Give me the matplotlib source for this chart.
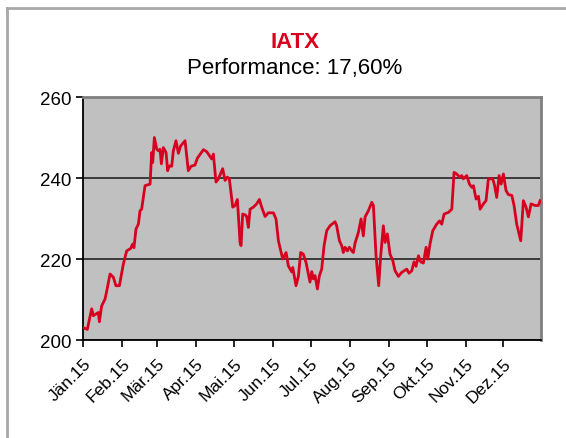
#!/usr/bin/env python3
# iatx_2015.py

import pandas as pd
import matplotlib
matplotlib.use("Agg")
import matplotlib.pyplot as plt
from matplotlib.lines import Line2D

plt.rcParams["font.family"] = ["Liberation Sans", "DejaVu Sans"]

# ===== Data =====
# day offsets from 1 Jan 2015 and index level
day_offsets = [
    0, 3.4, 6.9, 8.2, 12.2, 13.0, 14.8, 17.5, 18.8, 21.5, 24.1, 26.2, 28.9,
    32.1, 34.7, 37.9, 39.5, 40.5, 42.1, 44.0, 45.3, 46.6, 49.3, 53.3, 54.6,
    55.4, 56.7, 58.6, 59.9, 61.2, 62.3, 63.9, 66.0, 67.3, 68.6, 70.5, 71.8,
    73.9, 75.8, 77.6, 81.1, 83.7, 85.9, 89.0, 90.9, 95.7, 98.3, 102.3, 103.6,
    105.7, 107.6, 111.0, 112.9, 114.7, 116.3, 119.0, 120.8, 122.7, 124.8,
    125.6, 126.9, 128.8, 130.1, 131.4, 132.8, 135.4, 138.0, 140.2, 142.0,
    144.7, 147.3, 151.3, 153.4, 155.3, 158.7, 161.4, 163.2, 165.9, 166.7,
    169.3, 171.2, 173.0, 175.1, 177.3, 180.4, 181.8, 183.1, 184.4, 186.3,
    187.9, 189.7, 191.6, 193.7, 196.3, 200.3, 201.6, 203.8, 205.6, 206.9,
    208.3, 210.1, 211.7, 213.6, 214.9, 216.2, 218.9, 221.0, 222.8, 224.2,
    226.8, 229.5, 230.8, 232.9, 235.0, 236.6, 238.7, 240.1, 241.9, 244.0,
    246.2, 248.0, 250.7, 253.3, 257.3, 259.1, 261.3, 263.1, 264.7, 266.6,
    268.4, 270.5, 272.7, 274.0, 275.8, 278.0, 281.1, 283.3, 285.1, 287.0,
    290.4, 293.1, 294.9, 297.0, 299.2, 301.0, 302.3, 305.0, 307.1, 309.0,
    310.3, 312.4, 314.3, 315.6, 318.2, 320.3, 322.2, 325.6, 327.0, 328.8,
    330.7, 332.3, 334.1, 336.2, 338.1, 340.8, 342.6, 344.7, 347.9, 350.0,
    352.1, 354.0, 356.1, 359.3, 361.9, 363.3,
]
iatx = [
    203.1, 202.6, 207.7, 206.0, 206.8, 204.5, 208.4, 210.1, 212.0, 216.3,
    215.5, 213.4, 213.4, 218.8, 222.0, 222.6, 223.7, 222.8, 227.4, 228.6,
    231.9, 232.3, 238.1, 238.5, 246.3, 243.8, 250.0, 247.1, 246.7, 247.1,
    243.5, 247.5, 246.3, 241.8, 243.0, 242.9, 246.7, 249.2, 246.1, 247.9,
    249.2, 241.8, 242.9, 243.2, 244.9, 247.0, 246.5, 244.7, 245.9, 239.0,
    239.8, 242.3, 239.4, 240.2, 239.8, 232.8, 233.2, 234.7, 224.1, 223.3,
    231.1, 230.9, 230.5, 227.8, 232.3, 232.8, 233.6, 234.7, 232.8, 230.5,
    231.4, 231.4, 229.9, 224.5, 220.0, 221.6, 218.3, 216.8, 217.9, 213.4,
    215.8, 221.6, 221.2, 219.1, 214.3, 216.9, 215.1, 215.9, 212.6, 215.9,
    217.5, 223.3, 227.0, 228.2, 229.2, 228.2, 224.5, 223.3, 221.6, 222.9,
    222.0, 222.9, 222.0, 221.6, 223.9, 226.6, 229.9, 225.7, 230.4, 231.9,
    234.0, 233.2, 220.8, 213.4, 220.8, 228.2, 224.1, 226.2, 221.2, 219.6,
    217.1, 215.7, 216.7, 217.5, 216.5, 217.1, 219.3, 218.2, 220.8, 219.3,
    219.0, 222.9, 220.0, 223.7, 227.0, 228.6, 229.4, 228.6, 231.1, 231.5,
    232.3, 241.4, 241.0, 240.2, 240.6, 239.8, 240.6, 238.5, 237.7, 238.1,
    234.8, 235.5, 232.3, 233.6, 234.4, 239.8, 239.8, 238.3, 235.2, 240.6,
    238.5, 241.0, 236.9, 235.9, 235.7, 233.2, 228.6, 224.5, 234.4, 232.8,
    230.4, 233.6, 233.2, 233.2, 234.4,
]
month_labels = ["Jän.15", "Feb.15", "Mär.15", "Apr.15", "Mai.15", "Jun.15",
                "Jul.15", "Aug.15", "Sep.15", "Okt.15", "Nov.15", "Dez.15"]
title_main = "IATX"
title_sub = "Performance: 17,60%"


def main():
    start = pd.Timestamp("2015-01-01")
    dates = start + pd.to_timedelta(day_offsets, unit="D")
    month_starts = pd.date_range(start, periods=12, freq="MS")

    fig = plt.figure(figsize=(5.66, 4.39), dpi=100)
    ax = fig.add_axes([83 / 566, 1 - 341 / 439, 458 / 566, 243 / 439])

    ax.set_facecolor("#c0c0c0")
    ax.plot(dates, iatx, color="#d7001f", linewidth=2.0, zorder=3)

    ax.set_xlim(start, pd.Timestamp("2015-12-31"))
    ax.set_ylim(200, 260)
    ax.set_yticks([200, 220, 240, 260])
    ax.set_xticks(month_starts)
    ax.set_xticklabels(month_labels, rotation=45, ha="right", va="top",
                       rotation_mode="anchor", fontsize=12.5)
    ax.tick_params(axis="y", labelsize=13.5, length=5, width=1.2, color="black")
    ax.tick_params(axis="x", length=5, width=1.2, color="black", pad=6)

    # horizontal gridlines only
    ax.yaxis.grid(True, color="#303030", linewidth=1.3, zorder=1)
    ax.xaxis.grid(False)

    for side in ("left", "bottom"):
        ax.spines[side].set_color("black")
        ax.spines[side].set_linewidth(1.3)
    for side in ("top", "right"):
        ax.spines[side].set_color("#808080")
        ax.spines[side].set_linewidth(2)

    fig.text(295 / 566, 1 - 42 / 439, title_main, color="#d7001f",
             fontsize=16, fontweight="bold", ha="center", va="center")
    fig.text(295 / 566, 1 - 69 / 439, title_sub, color="black",
             fontsize=16, ha="center", va="center")

    # outer frame (left and top only, like the cropped screenshot)
    fig.add_artist(Line2D([7 / 566, 7 / 566], [0, 1 - 9 / 439],
                          color="#a8a8a8", linewidth=2))
    fig.add_artist(Line2D([7 / 566, 1], [1 - 9 / 439, 1 - 9 / 439],
                          color="#a8a8a8", linewidth=2))

    plt.savefig("out.png", dpi=100)


if __name__ == "__main__":
    main()
